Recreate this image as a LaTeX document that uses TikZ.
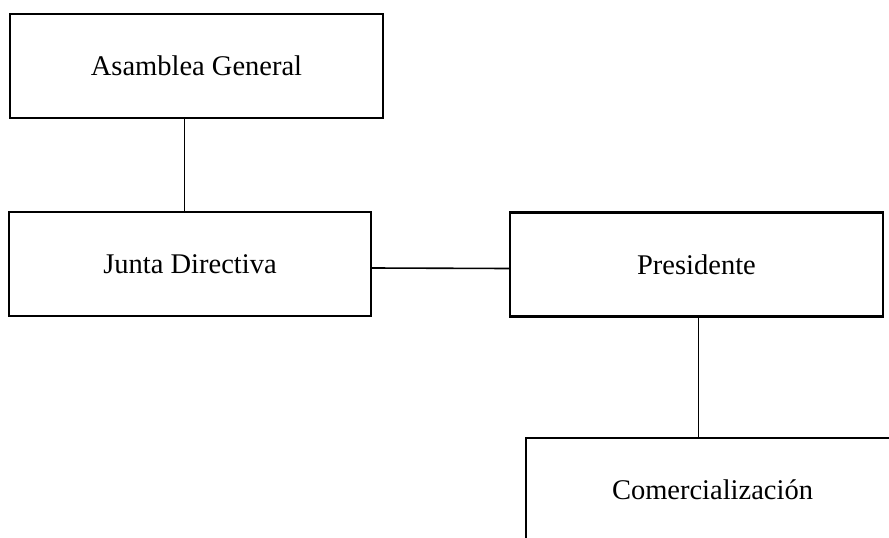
\documentclass[tikz,border=0pt]{standalone}
\usepackage{fontspec}
\setmainfont{Liberation Serif}
\tikzset{
  orgbox/.style={draw,line width=2.4pt,minimum height=104pt,inner sep=0pt,font=\fontsize{28.5}{32}\selectfont},
  link/.style={line width=1.6pt}
}

\begin{document}
\begin{tikzpicture}[x=1pt,y=-1pt]
            \useasboundingbox (0,0) rectangle (889,538);
            \clip (0,0) rectangle (889,538);

            \node[orgbox,minimum width=373pt] (asamblea) at (196.5,66) {Asamblea General};
            \node[orgbox,minimum width=362pt] (junta) at (190,264) {Junta Directiva};
            \node[orgbox,minimum width=373pt] (presidente) at (696.5,264.5) {Presidente};
            \node[orgbox,minimum width=373pt] (comer) at (712.5,490) {Comercializaci\'on};

            \draw[link] ([xshift=-12pt]asamblea.south) -- ([xshift=-12pt]asamblea.south |- junta.north);
            \draw[link] ([yshift=-4pt]junta.east) -- ([yshift=-4pt]presidente.west);
            \draw[link] ([xshift=2pt]presidente.south) -- ([xshift=2pt]presidente.south |- comer.north);
        \end{tikzpicture}
\end{document}
